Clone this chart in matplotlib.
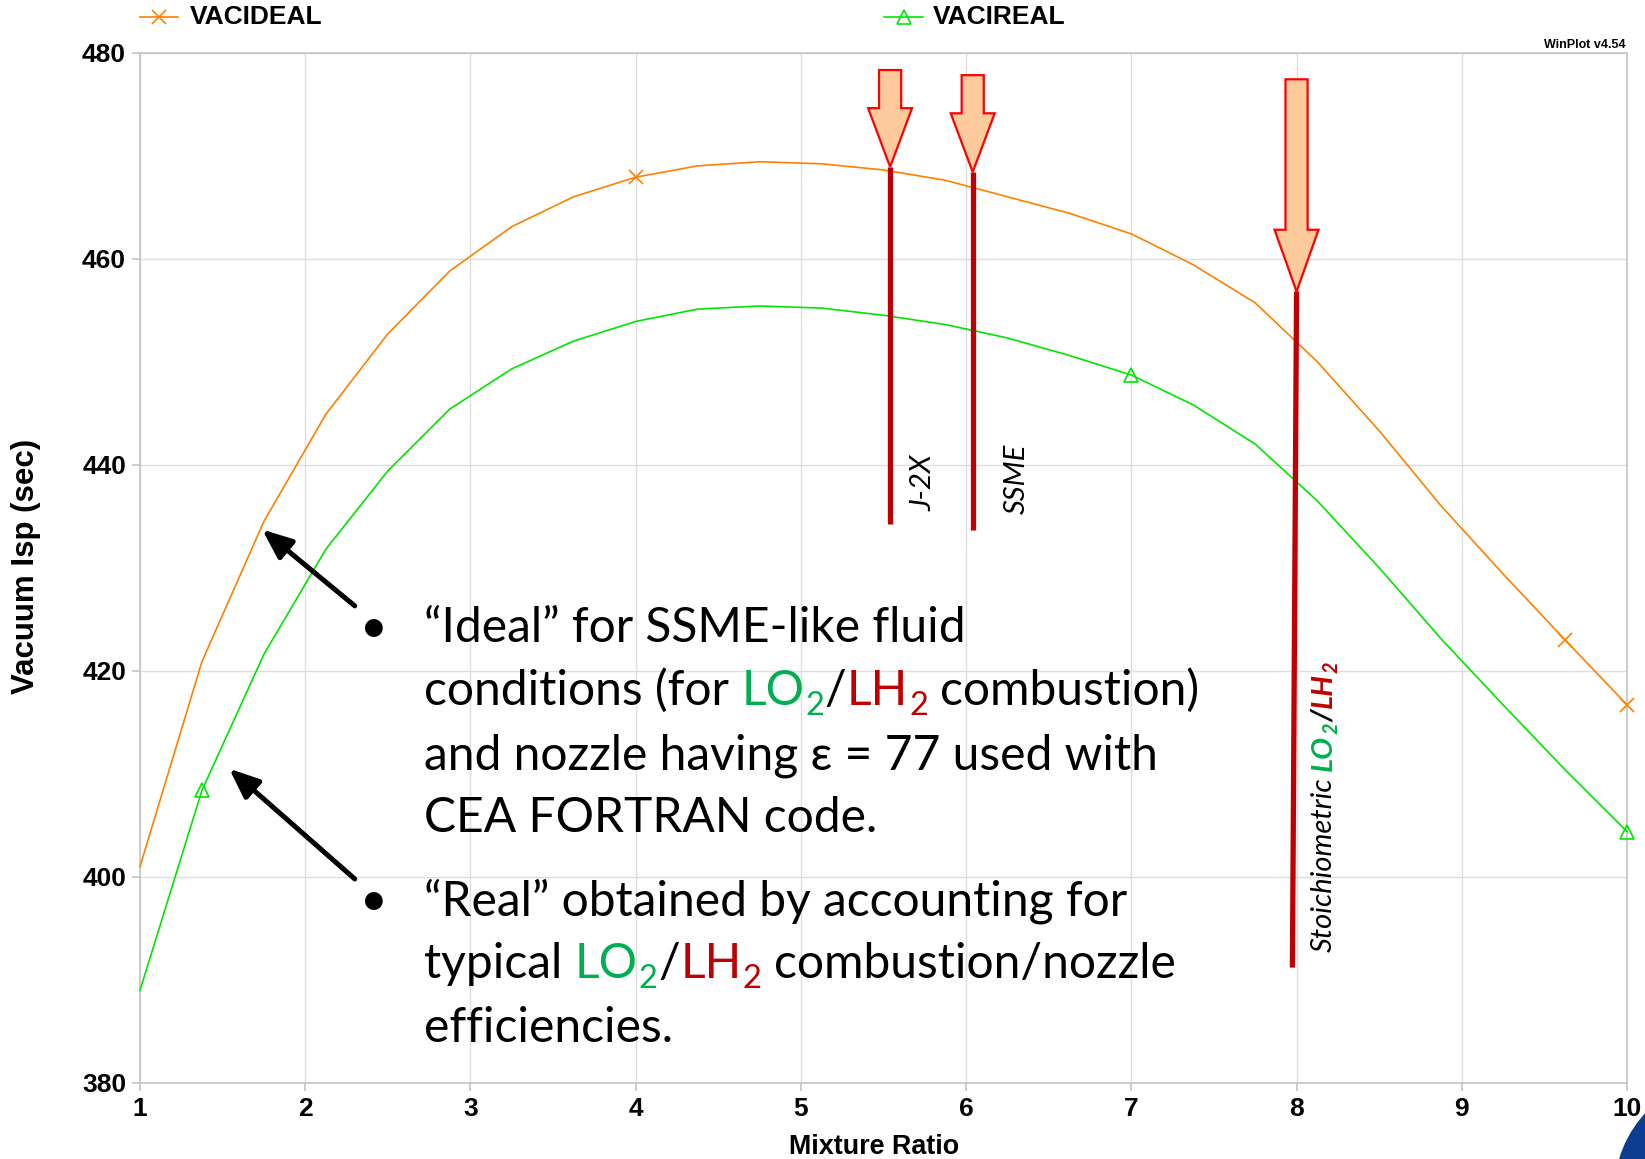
import matplotlib.pyplot as plt
from matplotlib.lines import Line2D
from matplotlib.patches import Polygon, Circle
from matplotlib.transforms import IdentityTransform

# mixture ratio (O/F) and vacuum Isp
mixture_ratio = [1.0, 1.375, 1.75, 2.125, 2.5, 2.875, 3.25, 3.625, 4.0, 4.375,
                 4.75, 5.125, 5.5, 5.875, 6.25, 6.625, 7.0, 7.375, 7.75, 8.125,
                 8.5, 8.875, 9.25, 9.625, 10.0]
isp_ideal = [401.0, 420.9, 434.5, 444.9, 452.7, 458.8, 463.1, 466.0, 467.9, 469.0,
             469.4, 469.2, 468.6, 467.6, 466.0, 464.4, 462.4, 459.4, 455.7, 450.0,
             443.3, 436.0, 429.4, 423.0, 416.7]
isp_real = [389.0, 408.4, 421.6, 431.8, 439.4, 445.4, 449.3, 452.0, 453.9, 455.1,
            455.4, 455.2, 454.5, 453.6, 452.3, 450.6, 448.7, 445.8, 442.0, 436.5,
            430.0, 423.1, 416.7, 410.4, 404.4]
ideal_marks = [8, 23, 24]
real_marks = [1, 16, 24]

series_labels = ['VACIDEAL', 'VACIREAL']
series_colors = ['#ff8000', '#00e600']

# engine operating points: (mr, bottom of red bar, top of red bar, arrow top, arrow neck)
engine_names = ['J-2X', 'SSME']
engine_mr = [5.54, 6.04]
engine_bar = [(434.2, 468.9), (433.7, 468.4)]
engine_arrow = [(478.3, 474.6), (477.8, 474.1)]
stoich_mr = (8.0, 7.975)
stoich_bar = (391.2, 456.8)
stoich_arrow = (477.4, 462.8)

x_ticks = list(range(1, 11))
y_ticks = list(range(380, 481, 20))

W, H = 1645, 1159
TXT_GREEN = '#00b050'
TXT_RED = '#c00000'
BODY_FONT = ['Lato', 'DejaVu Sans']

plt.rcParams['font.family'] = ['Liberation Sans', 'DejaVu Sans']


def fx(px):
    return px / W


def fy(py):
    return 1 - py / H


def block_arrow(ax, x, top, neck, tip, shaft=0.067, head=0.133):
    """Peach block arrow pointing down at (x, tip)"""
    pts = [(x - shaft, top), (x + shaft, top), (x + shaft, neck), (x + head, neck),
           (x, tip), (x - head, neck), (x - shaft, neck)]
    ax.add_patch(Polygon(pts, closed=True, facecolor='#fdca9c', edgecolor='#ff0000',
                         lw=1.6, zorder=6, clip_on=False))


def chain_text(ax, x, y, pieces, coords, fontsize, rotation=0, family=BODY_FONT):
    """Write coloured pieces one after another on a common baseline"""
    prev = None
    for s, color, style, weight, sub, gap in pieces:
        size = fontsize * (0.68 if sub else 1.0)
        shift = -0.2 * fontsize if sub else 0.0
        if prev is None:
            xy, xyc, off = (x, y), coords, [0, 0]
        elif rotation == 0:
            xy, xyc, off = (1, y), (prev, coords), [gap, 0]
        else:
            xy, xyc, off = (x, 1), (coords, prev), [0, gap]
        if rotation == 0:
            off[1] += shift
        else:
            off[0] -= shift
        prev = ax.annotate(s, xy=xy, xycoords=xyc, xytext=off, textcoords='offset points',
                           rotation=rotation, rotation_mode='anchor', ha='left',
                           va='baseline', fontsize=size, color=color, style=style,
                           weight=weight, family=family, annotation_clip=False, zorder=8)
    return prev


fig = plt.figure(figsize=(W / 100, H / 100), dpi=100)
ax = fig.add_axes([fx(140), 1 - 1083 / H, (1627 - 140) / W, (1083 - 52.5) / H])

ax.plot(mixture_ratio, isp_ideal, color=series_colors[0], lw=1.2, marker='x',
        ms=10, mew=1.2, markevery=ideal_marks, zorder=3, clip_on=False)
ax.plot(mixture_ratio, isp_real, color=series_colors[1], lw=1.2, marker='^', mfc='none',
        ms=10, mew=1.2, markevery=real_marks, zorder=3, clip_on=False)

ax.set_xlim(1, 10)
ax.set_ylim(380, 480)
ax.set_xticks(x_ticks)
ax.set_yticks(y_ticks)
ax.grid(True, color='#dedede', lw=1.0, zorder=0)
for sp in ax.spines.values():
    sp.set_color('#c4c4c4')
    sp.set_linewidth(1.2)
ax.tick_params(length=6, width=1.2, color='#c4c4c4', labelsize=19, pad=4)
for lab in ax.get_xticklabels() + ax.get_yticklabels():
    lab.set_fontweight('bold')

fig.text(fx(26), fy(566), 'Vacuum Isp (sec)', rotation=90, ha='center', va='center',
         fontsize=22.5, weight='bold')
fig.text(fx(874), fy(1134), 'Mixture Ratio', ha='center', va='top', fontsize=19.4,
         weight='bold')
fig.text(fx(1626), fy(45), 'WinPlot v4.54', ha='right', va='center', fontsize=9,
         weight='bold')

# legend row across the top
legend_x = [(140, 178, 190), (884, 923, 933)]
for (x0, x1, xt), lab, col, mk in zip(legend_x, series_labels, series_colors, ['x', '^']):
    fig.add_artist(Line2D([fx(x0), fx((x0 + x1) / 2), fx(x1)], [fy(17)] * 3,
                          transform=fig.transFigure, color=col, lw=1.2, marker=mk,
                          mfc='none', ms=10, mew=1.2, markevery=[1]))
    fig.text(fx(xt), fy(17), lab, ha='left', va='center', fontsize=19, weight='bold')

# engine markers
for name, mr, (b0, b1), (a0, a1) in zip(engine_names, engine_mr, engine_bar, engine_arrow):
    ax.plot([mr, mr], [b0, b1], color='#c00000', lw=3.8, zorder=5, solid_capstyle='butt')
    block_arrow(ax, mr, a0, a1, b1)
ax.plot(stoich_mr[::-1], stoich_bar, color='#c00000', lw=3.8, zorder=5,
        solid_capstyle='butt')
block_arrow(ax, stoich_mr[0], stoich_arrow[0], stoich_arrow[1], stoich_bar[1])

chain_text(ax, 5.788, 435.5, [('J-2X', 'black', 'italic', 'normal', False, 0)],
           'data', 21, rotation=90)
chain_text(ax, 6.357, 435.2, [('SSME', 'black', 'italic', 'normal', False, 0)],
           'data', 21, rotation=90)
chain_text(ax, 8.216, 392.7, [
    ('Stoichiometric', 'black', 'italic', 'normal', False, 0),
    ('LO', TXT_GREEN, 'italic', 'bold', False, 5),
    ('2', TXT_GREEN, 'italic', 'bold', True, 0.5),
    ('/', 'black', 'italic', 'bold', False, 0.5),
    ('LH', TXT_RED, 'italic', 'bold', False, 0.5),
    ('2', TXT_RED, 'italic', 'bold', True, 0.5),
], 'data', 21, rotation=90)

# bullet notes with arrows to the curves
fs = 34.6
sp = 0.26 * fs
lines = [
    (642, [('\u201cIdeal\u201d for SSME-like fluid', 'black', False, 0)]),
    (705, [('conditions (for', 'black', False, 0), ('LO', TXT_GREEN, False, sp),
           ('2', TXT_GREEN, True, 0.5), ('/', 'black', False, 0.5),
           ('LH', TXT_RED, False, 0.5), ('2', TXT_RED, True, 0.5),
           ('combustion)', 'black', False, sp)]),
    (769, [('and nozzle having \u03b5 = 77 used with', 'black', False, 0)]),
    (832, [('CEA FORTRAN code.', 'black', False, 0)]),
    (915, [('\u201cReal\u201d obtained by accounting for', 'black', False, 0)]),
    (978, [('typical', 'black', False, 0), ('LO', TXT_GREEN, False, sp),
           ('2', TXT_GREEN, True, 0.5), ('/', 'black', False, 0.5),
           ('LH', TXT_RED, False, 0.5), ('2', TXT_RED, True, 0.5),
           ('combustion/nozzle', 'black', False, sp)]),
    (1042, [('efficiencies.', 'black', False, 0)]),
]
for base, pieces in lines:
    chain_text(ax, 424, H - base,
               [(s, c, 'normal', 'normal', sub, g) for s, c, sub, g in pieces],
               'figure pixels', fs)
for base in [642, 915]:
    fig.text(fx(360), fy(base), '\u2022', ha='left', va='baseline', fontsize=fs,
             family=BODY_FONT)

arrow_style = dict(arrowstyle='-|>,head_length=0.6,head_width=0.25', lw=3.6,
                   color='black', mutation_scale=30, shrinkA=0, shrinkB=0)
ax.annotate('', xy=(1.74, 433.7), xytext=(2.30, 426.3), arrowprops=arrow_style, zorder=7)
ax.annotate('', xy=(1.54, 410.5), xytext=(2.30, 399.8), arrowprops=arrow_style, zorder=7)

# corner of the NASA meatball logo
fig.add_artist(Circle((1732, H - 1193), 118, transform=IdentityTransform(),
                      facecolor='#0b3d91', edgecolor='none'))

fig.savefig('out.png', dpi=100)
